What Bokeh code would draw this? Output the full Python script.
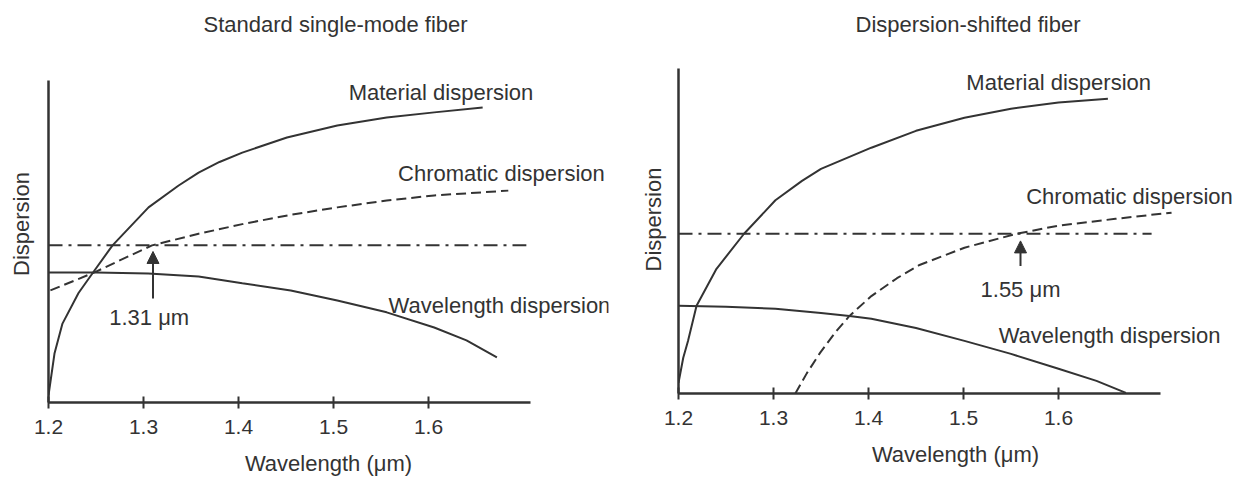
from bokeh.plotting import figure
from bokeh.layouts import row
from bokeh.models import Range1d, FixedTicker, Label, Arrow, NormalHead
from bokeh.embed import file_html
from bokeh.resources import INLINE

# ---------------- data (wavelength in um, dispersion in arbitrary units 0..10) -------------
x_ticks = [1.2, 1.3, 1.4, 1.5, 1.6]

# Standard single-mode fiber
smf_material_x = [1.2, 1.2063, 1.2147, 1.2316, 1.2484, 1.2674, 1.3053, 1.337, 1.358, 1.38, 1.404, 1.451, 1.504, 1.556, 1.606, 1.657]
smf_material_y = [0.22, 1.52, 2.45, 3.40, 4.10, 4.88, 6.06, 6.74, 7.14, 7.47, 7.76, 8.23, 8.60, 8.85, 9.01, 9.16]
smf_chromatic_x = [1.202, 1.2484, 1.274, 1.309, 1.358, 1.404, 1.455, 1.504, 1.556, 1.606, 1.684]
smf_chromatic_y = [3.48, 4.04, 4.40, 4.88, 5.24, 5.54, 5.83, 6.06, 6.27, 6.43, 6.58]
smf_wavelength_x = [1.2, 1.25, 1.305, 1.358, 1.404, 1.455, 1.504, 1.556, 1.606, 1.64, 1.672]
smf_wavelength_y = [4.04, 4.04, 4.01, 3.91, 3.70, 3.48, 3.17, 2.80, 2.33, 1.93, 1.40]
smf_ref_x = [1.2, 1.703]
smf_ref_y = [4.88, 4.88]
smf_zero_wl = 1.31
smf_arrow_y = [3.23, 4.69]

# Dispersion-shifted fiber
dsf_material_x = [1.2, 1.205, 1.21, 1.219, 1.24, 1.269, 1.302, 1.33, 1.35, 1.403, 1.45, 1.501, 1.55, 1.6, 1.652]
dsf_material_y = [0.33, 1.10, 1.62, 2.70, 3.84, 4.92, 5.95, 6.55, 6.92, 7.57, 8.09, 8.49, 8.77, 8.96, 9.08]
dsf_chromatic_x = [1.323, 1.335, 1.349, 1.365, 1.38, 1.403, 1.43, 1.453, 1.501, 1.556, 1.6, 1.66, 1.719]
dsf_chromatic_y = [0.0, 0.62, 1.25, 1.88, 2.39, 3.00, 3.55, 3.95, 4.49, 4.92, 5.17, 5.38, 5.57]
dsf_wavelength_x = [1.2, 1.25, 1.302, 1.35, 1.38, 1.403, 1.45, 1.501, 1.55, 1.6, 1.64, 1.671]
dsf_wavelength_y = [2.70, 2.67, 2.61, 2.48, 2.39, 2.30, 2.02, 1.62, 1.22, 0.76, 0.39, 0.02]
dsf_ref_x = [1.2, 1.698]
dsf_ref_y = [4.92, 4.92]
dsf_zero_wl = 1.56
dsf_arrow_y = [3.93, 4.70]

FONT = "Liberation Sans"
INK = "#333333"
PX_PER_UNIT_X = 950.0


def make_panel(title, fw, fh, yend, mbl, mbr, mbb, title_offset, ylabel_standoff):
    p = figure(title=title, frame_width=fw, frame_height=fh,
               x_range=Range1d(1.2, 1.2 + fw / PX_PER_UNIT_X),
               y_range=Range1d(0, yend),
               min_border_left=mbl, min_border_right=mbr, min_border_top=45, min_border_bottom=mbb,
               output_backend="svg", toolbar_location=None, tools="")
    p.outline_line_color = None
    p.grid.visible = False
    p.background_fill_color = "white"
    p.border_fill_color = "white"

    p.title.align = "left"
    p.title.offset = title_offset
    p.title.text_font = FONT
    p.title.text_font_size = "22px"
    p.title.text_font_style = "normal"
    p.title.text_color = INK
    p.title.standoff = 18

    xa = p.xaxis[0]
    xa.ticker = FixedTicker(ticks=x_ticks)
    xa.bounds = (1.2, 1.707)
    xa.axis_line_width = 2.5
    xa.axis_line_color = INK
    xa.major_tick_line_color = INK
    xa.major_tick_line_width = 2
    xa.major_tick_in = 6
    xa.major_tick_out = 6
    xa.minor_tick_line_color = None
    xa.major_label_text_font = FONT
    xa.major_label_text_font_size = "21px"
    xa.major_label_text_color = INK
    xa.major_label_standoff = 11
    xa.axis_label = "Wavelength (\u03bcm)"
    xa.axis_label_text_font = FONT
    xa.axis_label_text_font_size = "22px"
    xa.axis_label_text_font_style = "normal"
    xa.axis_label_text_color = INK
    xa.axis_label_standoff = 14

    ya = p.yaxis[0]
    ya.ticker = FixedTicker(ticks=[])
    ya.bounds = (0, 10)
    ya.axis_line_width = 2.5
    ya.axis_line_color = INK
    ya.major_tick_line_color = None
    ya.minor_tick_line_color = None
    ya.major_tick_in = 0
    ya.major_tick_out = 0
    ya.major_label_text_font_size = "0px"
    ya.axis_label = "Dispersion"
    ya.axis_label_text_font = FONT
    ya.axis_label_text_font_size = "22px"
    ya.axis_label_text_font_style = "normal"
    ya.axis_label_text_color = INK
    ya.axis_label_standoff = ylabel_standoff
    return p


def add_label(p, text, x, y, align="left"):
    p.add_layout(Label(x=x, y=y, text=text, text_font=FONT, text_font_size="22px",
                       text_color=INK, text_align=align, text_baseline="middle"))


# ---------------- left panel ----------------
p1 = make_panel("Standard single-mode fiber", 560, 357, 357 / 32.2, 48, 4, 63, 155, 15)
p1.line(smf_material_x, smf_material_y, line_width=2, line_color=INK)
p1.line(smf_chromatic_x, smf_chromatic_y, line_width=2, line_color=INK, line_dash="10 5")
p1.line(smf_wavelength_x, smf_wavelength_y, line_width=2, line_color=INK)
p1.line(smf_ref_x, smf_ref_y, line_width=2, line_color=INK, line_dash="14 6 3 6")
p1.add_layout(Arrow(end=NormalHead(size=12, fill_color=INK, line_color=INK),
                    x_start=smf_zero_wl, y_start=smf_arrow_y[0], x_end=smf_zero_wl, y_end=smf_arrow_y[1],
                    line_width=2, line_color=INK))
add_label(p1, "Material dispersion", 1.516, 9.63)
add_label(p1, "Chromatic dispersion", 1.568, 7.11)
add_label(p1, "Wavelength dispersion", 1.558, 3.01)
add_label(p1, "1.31 \u03bcm", 1.306, 2.64, align="center")

# ---------------- right panel ----------------
p2 = make_panel("Dispersion-shifted fiber", 554, 348, 348 / 32.47, 66, 1, 72, 177, 13)
p2.line(dsf_material_x, dsf_material_y, line_width=2, line_color=INK)
p2.line(dsf_chromatic_x, dsf_chromatic_y, line_width=2, line_color=INK, line_dash="10 5")
p2.line(dsf_wavelength_x, dsf_wavelength_y, line_width=2, line_color=INK)
p2.line(dsf_ref_x, dsf_ref_y, line_width=2, line_color=INK, line_dash="14 6 3 6")
p2.add_layout(Arrow(end=NormalHead(size=12, fill_color=INK, line_color=INK),
                    x_start=dsf_zero_wl, y_start=dsf_arrow_y[0], x_end=dsf_zero_wl, y_end=dsf_arrow_y[1],
                    line_width=2, line_color=INK))
add_label(p2, "Material dispersion", 1.503, 9.57)
add_label(p2, "Chromatic dispersion", 1.566, 6.06)
add_label(p2, "Wavelength dispersion", 1.537, 1.78)
add_label(p2, "1.55 \u03bcm", 1.56, 3.19, align="center")

layout = row(p1, p2)
open("out.html", "w").write(file_html(layout, INLINE))
